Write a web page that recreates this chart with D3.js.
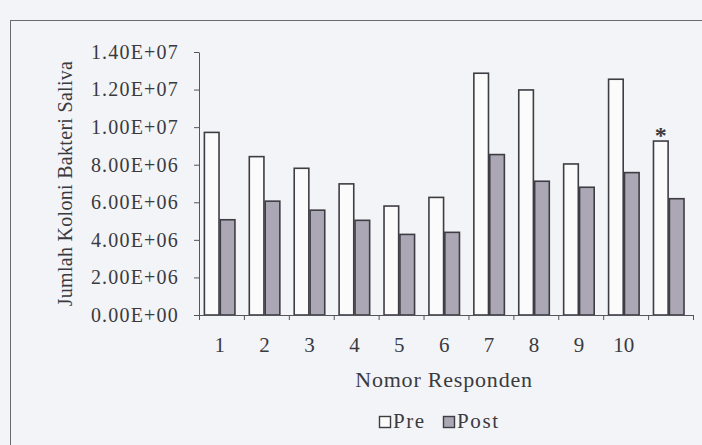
<!DOCTYPE html>
<html>
<head>
<meta charset="utf-8">
<script src="https://cdn.jsdelivr.net/npm/d3@7"></script>
<style>
  html, body { margin: 0; padding: 0; background: #f3f4f7; }
  svg { display: block; }
  text { font-family: "Liberation Serif", "Times New Roman", serif; fill: #3a3a3e; }
</style>
</head>
<body>
<div id="chart"></div>
<script>
// Data
const categories = ["1", "2", "3", "4", "5", "6", "7", "8", "9", "10", ""];
const seriesNames = ["Pre", "Post"];
const preValues = [9.72e6, 8.43e6, 7.81e6, 6.98e6, 5.8e6, 6.26e6, 12.87e6, 11.98e6, 8.04e6, 12.55e6, 9.26e6];
const postValues = [5.07e6, 6.06e6, 5.58e6, 5.04e6, 4.29e6, 4.4e6, 8.54e6, 7.12e6, 6.8e6, 7.58e6, 6.19e6];
const yTicks = [0, 2e6, 4e6, 6e6, 8e6, 1e7, 1.2e7, 1.4e7];
const markedCategory = "";

// Formatter: 1.40E+07 style
const sciFmt = (v) => {
  if (v === 0) return "0.00E+00";
  const exp = Math.floor(Math.log10(v));
  const mant = v / Math.pow(10, exp);
  return mant.toFixed(2) + "E+" + String(exp).padStart(2, "0");
};

// Dimensions
const dimensions = {
  width: 702,
  height: 445,
  left: 199,
  right: 693,
  top: 52,
  bottom: 315,
};

const svg = d3
  .select("#chart")
  .append("svg")
  .attr("width", dimensions.width)
  .attr("height", dimensions.height);

// background + frame
svg.append("rect")
  .attr("width", dimensions.width)
  .attr("height", dimensions.height)
  .attr("fill", "#f3f4f7");

svg.append("rect")
  .attr("x", 10.5)
  .attr("y", 20.5)
  .attr("width", 720)
  .attr("height", 460)
  .attr("fill", "none")
  .attr("stroke", "#6a6a70")
  .attr("stroke-width", 1);

// Scales
const xScale = d3
  .scaleBand()
  .domain(categories)
  .range([dimensions.left, dimensions.right])
  .padding(0);

const bw = xScale.bandwidth();

const xSub = d3
  .scaleBand()
  .domain(seriesNames)
  .range([bw * 0.12, bw * 0.8])
  .paddingInner(0.08);

const yScale = d3
  .scaleLinear()
  .domain([0, 1.4e7])
  .range([dimensions.bottom, dimensions.top]);

const xIndex = d3
  .scaleLinear()
  .domain([0, categories.length])
  .range([dimensions.left, dimensions.right]);

// Bars
const rows = categories.map((c, i) => ({ cat: c, Pre: preValues[i], Post: postValues[i] }));
const fills = { Pre: "#fbfbfb", Post: "#aba7b4" };

const groups = svg
  .append("g")
  .selectAll("g")
  .data(rows)
  .join("g")
  .attr("transform", (d) => `translate(${xScale(d.cat)},0)`);

groups
  .selectAll("rect")
  .data((d) => seriesNames.map((s) => ({ key: s, value: d[s] })))
  .join("rect")
  .attr("x", (d) => xSub(d.key))
  .attr("y", (d) => yScale(d.value))
  .attr("width", xSub.bandwidth())
  .attr("height", (d) => yScale(0) - yScale(d.value))
  .attr("fill", (d) => fills[d.key])
  .attr("stroke", "#3e3d44")
  .attr("stroke-width", 1.6);

// asterisk on last group
const markIdx = categories.indexOf(markedCategory);
svg.append("text")
  .attr("x", xScale(markedCategory) + xSub("Pre") + xSub.bandwidth() / 2)
  .attr("y", yScale(preValues[markIdx]) + 2)
  .attr("text-anchor", "middle")
  .attr("font-size", 24)
  .attr("font-weight", "bold")
  .text("*");

// Axes
const yAxis = d3.axisLeft(yScale)
  .tickValues(yTicks)
  .tickFormat(sciFmt)
  .tickSize(5)
  .tickSizeOuter(0)
  .tickPadding(15);

const yAxisGroup = svg.append("g")
  .attr("transform", `translate(${dimensions.left},0)`)
  .call(yAxis);
yAxisGroup.selectAll("text")
  .attr("font-size", 20)
  .attr("letter-spacing", 1.2)
  .attr("fill", "#3a3a3e")
  .style("font-family", "'Liberation Serif', serif");
yAxisGroup.selectAll("line, path").attr("stroke", "#55545a");

const xAxis = d3.axisBottom(xIndex)
  .tickValues(d3.range(0, categories.length + 1))
  .tickFormat("")
  .tickSize(5)
  .tickSizeOuter(0);

const xAxisGroup = svg.append("g")
  .attr("transform", `translate(0,${dimensions.bottom})`)
  .call(xAxis);
xAxisGroup.selectAll("line, path").attr("stroke", "#55545a");

// category labels at the centre of each bar pair
svg.append("g")
  .selectAll("text")
  .data(categories)
  .join("text")
  .attr("x", (d) => xScale(d) + (xSub.range()[0] + xSub.range()[1]) / 2)
  .attr("y", 352)
  .attr("text-anchor", "middle")
  .attr("font-size", 21)
  .text((d) => d);

// Axis titles
svg.append("text")
  .attr("transform", `translate(72,${(dimensions.top + dimensions.bottom) / 2}) rotate(-90)`)
  .attr("text-anchor", "middle")
  .attr("font-size", 20)
  .attr("letter-spacing", 0.3)
  .text("Jumlah Koloni Bakteri Saliva");

svg.append("text")
  .attr("x", 444)
  .attr("y", 387)
  .attr("text-anchor", "middle")
  .attr("font-size", 22)
  .attr("letter-spacing", 0.8)
  .text("Nomor Responden");

// Legend
const legend = svg.append("g").attr("transform", "translate(379,416)");
const legendItems = [
  { key: "Pre", x: 0 },
  { key: "Post", x: 64 },
];
const li = legend.selectAll("g").data(legendItems).join("g")
  .attr("transform", (d) => `translate(${d.x},0)`);
li.append("rect")
  .attr("x", 0.5)
  .attr("y", 0.5)
  .attr("width", 11)
  .attr("height", 11)
  .attr("fill", (d) => fills[d.key])
  .attr("stroke", "#3e3d44")
  .attr("stroke-width", 1.4);
li.append("text")
  .attr("x", 14)
  .attr("y", 12)
  .attr("font-size", 21)
  .attr("letter-spacing", 1.6)
  .text((d) => d.key);
</script>
</body>
</html>
